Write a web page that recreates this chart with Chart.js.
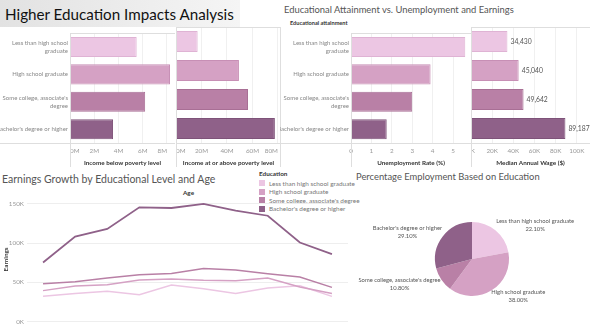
<!DOCTYPE html>
<html><head><meta charset="utf-8">
<script src="https://cdn.jsdelivr.net/npm/chart.js@4.4.1/dist/chart.umd.min.js"></script>
<style>
html,body{margin:0;padding:0;background:#fff;width:590px;height:333px;overflow:hidden;font-family:Lato,"Open Sans",sans-serif;position:relative;}
canvas{position:absolute;}
.t{position:absolute;white-space:nowrap;line-height:1;}
#legend{position:absolute;left:259px;top:170px;font-size:6.4px;color:#777;}
#legend .h{font-weight:bold;color:#333;margin-bottom:2px;}
#legend .i{height:8.5px;display:flex;align-items:center;}
#legend .s{width:6px;height:6px;margin-right:4px;}
</style></head><body>
<div class="t" style="left:0;top:0;width:240px;height:27px;background:linear-gradient(to right,#e2e2e2,#f5f5f5);"></div>
<div class="t" style="left:5px;top:7px;font-size:15.2px;color:#111;">Higher Education Impacts Analysis</div>
<div class="t" style="left:284px;top:5px;font-size:9.4px;color:#555;">Educational Attainment vs. Unemployment and Earnings</div>
<div class="t" style="left:290px;top:20px;font-size:5.6px;font-weight:bold;color:#333;">Educational attainment</div>
<div class="t" style="left:2px;top:174px;font-size:10.5px;color:#555;">Earnings Growth by Educational Level and Age</div>
<div class="t" style="left:356px;top:172px;font-size:9.4px;color:#555;">Percentage Employment Based on Education</div>
<div class="t" style="left:183px;top:190px;font-size:6.3px;font-weight:bold;color:#333;">Age</div>
<div id="legend"></div>

<canvas id="cA" width="175" height="140" style="left:0;top:27px;"></canvas>
<canvas id="cB" width="105" height="140" style="left:176px;top:27px;"></canvas>
<canvas id="cC" width="191" height="140" style="left:280px;top:27px;"></canvas>
<canvas id="cD" width="119" height="140" style="left:471px;top:27px;"></canvas>
<canvas id="cL" width="348" height="144" style="left:0;top:189px;"></canvas>
<canvas id="cP" width="264" height="148" style="left:340px;top:185px;"></canvas>

<script>
// ---- data ----
const educationLevels = ['Less than high school graduate', 'High school graduate', "Some college, associate's degree", "Bachelor's degree or higher"];
const educationLabelLines = [['Less than high school', 'graduate'], ['High school graduate'], ["Some college, associate's", 'degree'], ["Bachelor's degree or higher"]];
const incomeBelowPoverty = [5.5e6, 8.25e6, 6.2e6, 3.55e6];
const incomeAbovePoverty = [17e6, 49.4e6, 56.5e6, 77.6e6];
const unemploymentRate = [5.6, 3.9, 3.0, 1.75];
const medianAnnualWage = [34430, 45040, 49642, 89187];
const ageGroups = ['25 to 29', '30 to 34', '35 to 39', '40 to 44', '45 to 49', '50 to 54', '55 to 59', '60 to 64', '65 to 69', '70 to 74'];
const earningsLessThanHS = [32100, 35600, 38500, 34300, 46600, 41900, 35600, 42800, 45700, 32100];
const earningsHSGraduate = [39400, 45400, 47000, 53000, 54300, 52500, 52100, 55500, 44100, 35600];
const earningsSomeCollege = [48300, 50800, 55500, 59700, 61400, 67700, 65700, 61000, 56800, 43600];
const earningsBachelors = [75300, 108400, 118200, 145700, 144900, 150000, 141400, 135000, 100800, 86000];
const employmentShare = [22.10, 38.00, 10.80, 29.10];
const belowPovertyTicks = [0, 2e6, 4e6, 6e6, 8e6];
const belowPovertyTickLabels = ['0M', '2M', '4M', '6M', '8M'];
const abovePovertyTicks = [0, 20e6, 40e6, 60e6, 80e6];
const abovePovertyTickLabels = ['0M', '20M', '40M', '60M', '80M'];
const unemploymentTicks = [0, 1, 2, 3, 4, 5];
const unemploymentTickLabels = ['0', '1', '2', '3', '4', '5'];
const wageTicks = [0, 20000, 40000, 60000, 80000, 100000];
const wageTickLabels = ['0K', '20K', '40K', '60K', '80K', '100K'];
const earningsTicks = [0, 50000, 100000, 150000];
const earningsTickLabels = ['0K', '50K', '100K', '150K'];
const eduColors = ['#ecc6e3', '#d5a1c4', '#b980a6', '#8f6189'];
const eduBorders = ['#dfb3d4', '#c78fb5', '#a86f95', '#7e5379'];

const FONT = 'Lato, "Open Sans", sans-serif';
Chart.defaults.font.family = FONT;
Chart.defaults.animation = false;
Chart.defaults.responsive = false;
Chart.defaults.plugins.legend.display = false;
Chart.defaults.plugins.tooltip.enabled = false;

const framePlugin = {
  id: 'frame',
  afterDraw(chart, args, o) {
    if (!o || !o.on) return;
    const {ctx, chartArea: a, height} = chart;
    const px = v => Math.round(v) + 0.5;
    ctx.save();
    ctx.strokeStyle = '#dedede'; ctx.lineWidth = 1;
    ctx.beginPath();
    ctx.moveTo(a.left, px(a.top)); ctx.lineTo(a.right, px(a.top));
    ctx.moveTo(0, px(a.bottom)); ctx.lineTo(a.right, px(a.bottom));
    ctx.moveTo(px(a.left), a.top); ctx.lineTo(px(a.left), height);
    if (o.right) { ctx.moveTo(px(a.right) - 1, a.top); ctx.lineTo(px(a.right) - 1, height); }
    ctx.stroke();
    ctx.restore();
  }
};
const valueLabelPlugin = {
  id: 'valueLabels',
  afterDatasetsDraw(chart, args, o) {
    if (!o || !o.on) return;
    const {ctx} = chart;
    const meta = chart.getDatasetMeta(0);
    ctx.save();
    ctx.font = '6.8px ' + FONT;
    ctx.fillStyle = '#555'; ctx.textAlign = 'left'; ctx.textBaseline = 'middle';
    meta.data.forEach((bar, i) => {
      ctx.fillText(chart.data.datasets[0].data[i].toLocaleString('en-US'), bar.x + 3, bar.y);
    });
    ctx.restore();
  }
};
const pieLabelPlugin = {
  id: 'pieLabels',
  afterDatasetsDraw(chart, args, o) {
    if (!o || !o.on) return;
    const {ctx} = chart;
    const meta = chart.getDatasetMeta(0);
    ctx.save();
    ctx.font = '5.8px ' + FONT;
    ctx.fillStyle = '#555'; ctx.textBaseline = 'middle'; ctx.textAlign = 'center';
    meta.data.forEach((arc, i) => {
      const mid = (arc.startAngle + arc.endAngle) / 2;
      const d = arc.outerRadius + 7;
      const ax = arc.x + Math.cos(mid) * d;
      const ay = arc.y + Math.sin(mid) * d;
      const l1 = educationLevels[i];
      const l2 = employmentShare[i].toFixed(2) + '%';
      const w = Math.max(ctx.measureText(l1).width, ctx.measureText(l2).width);
      const right = Math.cos(mid) >= 0;
      const cx = right ? ax - 4 + w / 2 : ax + 5 - w / 2;
      ctx.fillText(l1, cx, ay - 4);
      ctx.fillText(l2, cx, ay + 4);
    });
    ctx.restore();
  }
};
Chart.register(framePlugin, valueLabelPlugin, pieLabelPlugin);

const tickFont = {size: 6.3};
function fixTicks(values) { return s => { s.ticks = values.map(v => ({value: v})); }; }
function noPad(h) { return s => { s.height = h; s.paddingLeft = 0; s.paddingRight = 0; }; }

function barChart(id, values, max, ticks, tickLabels, title, showCats, opts) {
  return new Chart(document.getElementById(id), {
    type: 'bar',
    data: {
      labels: educationLabelLines,
      datasets: [{data: values, backgroundColor: eduColors, borderColor: eduBorders, borderWidth: 1,
                  barPercentage: 0.73, categoryPercentage: 1}]
    },
    options: {
      indexAxis: 'y',
      layout: {padding: 0},
      scales: {
        x: {
          min: 0, max: max,
          afterBuildTicks: fixTicks(ticks),
          afterFit: noPad(24),
          grid: {color: '#f0f0f0', drawTicks: false},
          border: {display: false},
          ticks: {font: tickFont, color: '#999', padding: 4, maxRotation: 0, align: opts.align || 'center',
                  callback: (v, i) => tickLabels[i]},
          title: {display: true, text: title, font: {size: 6.3, weight: 'bold'}, color: '#333', padding: {top: 2, bottom: 0}}
        },
        y: {
          display: showCats ? true : false,
          afterFit: s => { s.width = opts.yw || 0; },
          grid: {display: false, drawTicks: false},
          border: {display: false},
          ticks: {font: {size: 6.0, lineHeight: 1.4}, color: '#888', padding: 2}
        }
      },
      plugins: {frame: {on: true, right: opts.right}, valueLabels: {on: opts.values}}
    }
  });
}

barChart('cA', incomeBelowPoverty, 8.66e6, belowPovertyTicks, belowPovertyTickLabels, 'Income below poverty level', true, {yw: 70, align: 'inner'});
barChart('cB', incomeAbovePoverty, 82.4e6, abovePovertyTicks, abovePovertyTickLabels, 'Income at or above poverty level', false, {right: true, align: 'inner'});
barChart('cC', unemploymentRate, 5.88, unemploymentTicks, unemploymentTickLabels, 'Unemployment Rate (%)', true, {yw: 71});
barChart('cD', medianAnnualWage, 112400, wageTicks, wageTickLabels, 'Median Annual Wage ($)', false, {values: true});

const lineSeries = [earningsLessThanHS, earningsHSGraduate, earningsSomeCollege, earningsBachelors];
new Chart(document.getElementById('cL'), {
  type: 'line',
  data: {
    labels: ageGroups,
    datasets: lineSeries.map((d, i) => ({
      label: educationLevels[i], data: d, borderColor: eduColors[i], backgroundColor: eduColors[i],
      borderWidth: i === 3 ? 1.8 : 1.5, pointRadius: 0, tension: 0, order: 4 - i
    }))
  },
  options: {
    layout: {padding: {top: 8.4}},
    scales: {
      x: {
        offset: true,
        afterFit: noPad(11.5),
        grid: {display: false},
        border: {display: false},
        ticks: {font: tickFont, color: '#999', padding: 3, maxRotation: 0, autoSkip: false}
      },
      y: {
        min: 0, max: 158400,
        afterBuildTicks: fixTicks(earningsTicks),
        afterFit: s => { s.width = 27; },
        grid: {color: '#eeeeee', drawTicks: false},
        border: {display: false},
        ticks: {font: tickFont, color: '#999', padding: 3, callback: (v, i) => earningsTickLabels[i]},
        title: {display: true, text: 'Earnings', font: {size: 6.3, weight: 'bold'}, color: '#333', padding: {top: 2, bottom: 0}}
      }
    }
  }
});

new Chart(document.getElementById('cP'), {
  type: 'pie',
  data: {
    labels: educationLevels,
    datasets: [{data: employmentShare, backgroundColor: eduColors, borderWidth: 0}]
  },
  options: {
    layout: {padding: 0},
    radius: 37,
    plugins: {pieLabels: {on: true}}
  }
});

// legend
const lg = document.getElementById('legend');
let html = '<div class="h">Education</div>';
educationLevels.forEach((n, i) => {
  html += '<div class="i"><div class="s" style="background:' + eduColors[i] + '"></div>' + n + '</div>';
});
lg.innerHTML = html;
</script>
</body></html>
